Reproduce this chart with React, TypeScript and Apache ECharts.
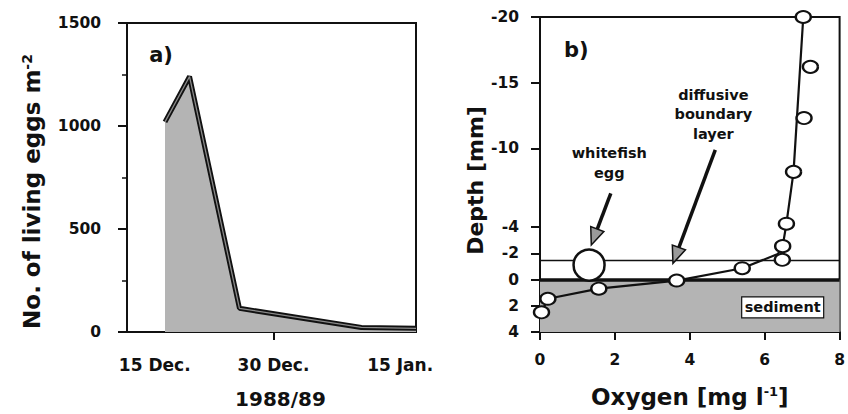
import React, { useEffect, useRef } from "react";
import * as echarts from "echarts";

// Panel a: living whitefish eggs per m² over the 1988/89 season (days after 15 Dec.)
const eggDays = [1.3, 4.4, 10.7, 26.1, 33];
const eggCounts = [1020, 1240, 115, 22, 18];
const dateTickDays = [0, 15, 31];
const dateTickLabels = ["15 Dec.", "30 Dec.", "15 Jan."];

// Panel b: oxygen micro-profile across the sediment–water interface
const o2Measured = [7.03, 7.22, 7.05, 6.77, 6.58, 6.48, 6.47, 5.4, 3.65, 1.57, 0.21, 0.04];
const depthMeasured = [-20, -16.2, -12.3, -8.2, -4.25, -2.54, -1.5, -0.86, 0.08, 0.7, 1.47, 2.5];
const o2Profile = [7.03, 6.77, 6.58, 6.48, 6.35, 5.4, 3.65, 1.57, 0.21, 0.04];
const depthProfile = [-20, -8.2, -4.25, -2.54, -1.94, -0.86, 0.08, 0.7, 1.47, 2.5];
const depthTicks = [-20, -15, -10, -4, -2, 0, 2, 4];
const boundaryLayerTop = -1.5;
const sedimentTop = 0;
const sedimentBottom = 4;
const eggPosition = [1.31, -1.1];

const FONT = "DejaVu Sans";
const INK = "#111";
const FILL = "#b4b4b4";

export default function App() {
  const ref = useRef<HTMLDivElement>(null);

  useEffect(() => {
    if (!ref.current) return;
    const chart = echarts.init(ref.current, null, { renderer: "svg" });

    const tickLabel = { color: INK, fontFamily: FONT, fontWeight: "bold" as const, fontSize: 15.5 };
    const axisLine = { onZero: false, lineStyle: { color: INK, width: 2 } };

    chart.setOption({
      animation: false,
      backgroundColor: "#fff",
      grid: [
        { left: 127, top: 23, width: 289, height: 316, show: true, borderColor: INK, borderWidth: 2, backgroundColor: "transparent" },
        { left: 540, top: 17, width: 306, height: 315, show: true, borderColor: INK, borderWidth: 2, backgroundColor: "transparent" },
      ],
      xAxis: [
        {
          type: "value",
          gridIndex: 0,
          min: -3.5,
          max: 33,
          splitLine: { show: false },
          axisLine,
          axisTick: { show: true, customValues: [15], length: 8, lineStyle: { color: INK, width: 2 } },
          axisLabel: {
            ...tickLabel,
            fontSize: 17,
            margin: 24,
            customValues: dateTickDays,
            formatter: (v: number) => dateTickLabels[dateTickDays.indexOf(v)] ?? "",
          },
          name: "1988/89",
          nameLocation: "middle",
          nameGap: 57,
          nameTextStyle: { color: INK, fontFamily: FONT, fontWeight: "bold", fontSize: 20, padding: [0, 0, 0, 18] },
        },
        {
          type: "value",
          gridIndex: 1,
          min: 0,
          max: 8,
          interval: 2,
          splitLine: { show: false },
          axisLine,
          axisTick: { length: 8, lineStyle: { color: INK, width: 2 } },
          axisLabel: { ...tickLabel, margin: 20, formatter: (v: number) => String(v) },
          name: "{t|Oxygen [mg l}{s|-1}{t|]}",
          nameLocation: "middle",
          nameGap: 53,
          nameTextStyle: {
            rich: {
              t: { color: INK, fontFamily: FONT, fontWeight: "bold", fontSize: 23 },
              s: { color: INK, fontFamily: FONT, fontWeight: "bold", fontSize: 13, verticalAlign: "top" },
            },
          },
        },
      ],
      yAxis: [
        {
          type: "value",
          gridIndex: 0,
          min: 0,
          max: 1500,
          interval: 500,
          splitLine: { show: false },
          axisLine,
          axisTick: { length: 9, lineStyle: { color: INK, width: 2 } },
          minorTick: { show: true, splitNumber: 2, length: 5, lineStyle: { color: INK, width: 1.5 } },
          axisLabel: { ...tickLabel, margin: 26, formatter: (v: number) => String(v) },
          name: "{t|No. of living eggs m}{s|-2}",
          nameLocation: "middle",
          nameGap: 84,
          nameTextStyle: {
            padding: [0, 28, 0, 0],
            rich: {
              t: { color: INK, fontFamily: FONT, fontWeight: "bold", fontSize: 23 },
              s: { color: INK, fontFamily: FONT, fontWeight: "bold", fontSize: 14, verticalAlign: "top" },
            },
          },
        },
        {
          type: "value",
          gridIndex: 1,
          inverse: true,
          min: -20,
          max: 4,
          splitLine: { show: false },
          axisLine,
          axisTick: { customValues: depthTicks, length: 9, lineStyle: { color: INK, width: 2 } },
          axisLabel: { ...tickLabel, margin: 21, customValues: depthTicks, formatter: (v: number) => String(v) },
          name: "Depth [mm]",
          nameLocation: "middle",
          nameGap: 54,
          nameTextStyle: { color: INK, fontFamily: FONT, fontWeight: "bold", fontSize: 22, padding: [0, 12, 0, 0] },
        },
      ],
      series: [
        // sediment layer and interface lines
        {
          type: "line",
          xAxisIndex: 1,
          yAxisIndex: 1,
          data: [],
          z: 1,
          markArea: {
            silent: true,
            itemStyle: { color: FILL },
            data: [[{ yAxis: sedimentTop }, { yAxis: sedimentBottom }]],
          },
          markLine: {
            silent: true,
            symbol: "none",
            label: { show: false },
            data: [
              { yAxis: sedimentTop, lineStyle: { color: INK, width: 3.5, type: "solid" } },
              { yAxis: boundaryLayerTop, lineStyle: { color: INK, width: 1.3, type: "solid" } },
            ],
          },
        },
        // panel a: filled egg counts with a double-stroked outline
        {
          type: "line",
          xAxisIndex: 0,
          yAxisIndex: 0,
          data: eggDays.map((d, i) => [d, eggCounts[i]]),
          symbol: "none",
          lineStyle: { color: INK, width: 5 },
          areaStyle: { color: FILL, opacity: 1 },
          z: 3,
        },
        {
          type: "line",
          xAxisIndex: 0,
          yAxisIndex: 0,
          data: eggDays.map((d, i) => [d, eggCounts[i]]),
          symbol: "none",
          lineStyle: { color: "#8a8a8a", width: 1.3 },
          z: 4,
        },
        // panel b: fitted oxygen profile
        {
          type: "line",
          xAxisIndex: 1,
          yAxisIndex: 1,
          data: o2Profile.map((o, i) => [o, depthProfile[i]]),
          symbol: "none",
          lineStyle: { color: INK, width: 2.2 },
          z: 4,
        },
        // panel b: measured oxygen values
        {
          type: "scatter",
          xAxisIndex: 1,
          yAxisIndex: 1,
          clip: false,
          data: o2Measured.map((o, i) => [o, depthMeasured[i]]),
          symbol: "circle",
          symbolSize: [15, 12],
          itemStyle: { color: "#fff", borderColor: INK, borderWidth: 2.2, opacity: 1 },
          z: 5,
        },
        // panel b: whitefish egg
        {
          type: "scatter",
          xAxisIndex: 1,
          yAxisIndex: 1,
          data: [eggPosition],
          symbol: "circle",
          symbolSize: 31,
          itemStyle: { color: "#fff", borderColor: INK, borderWidth: 2.5, opacity: 1 },
          z: 6,
        },
      ],
    });

    // annotations anchored to data coordinates
    const px = (grid: number, p: number[]) => chart.convertToPixel({ gridIndex: grid }, p) as number[];

    const arrow = (tail: number[], tip: number[]) => {
      const a = px(1, tail);
      const b = px(1, tip);
      const dx = b[0] - a[0];
      const dy = b[1] - a[1];
      const len = Math.hypot(dx, dy);
      const ux = dx / len;
      const uy = dy / len;
      const headLen = 17;
      const headHalf = 7;
      const bx = b[0] - ux * headLen;
      const by = b[1] - uy * headLen;
      return [
        {
          type: "line",
          shape: { x1: a[0], y1: a[1], x2: bx + ux * 2, y2: by + uy * 2 },
          style: { stroke: INK, lineWidth: 3.5 },
          z: 20,
        },
        {
          type: "polygon",
          shape: {
            points: [
              [b[0], b[1]],
              [bx - uy * headHalf, by + ux * headHalf],
              [bx + uy * headHalf, by - ux * headHalf],
            ],
          },
          style: { fill: "#9a9a9a", stroke: INK, lineWidth: 1.5 },
          z: 21,
        },
      ];
    };

    const label = (grid: number, at: number[], text: string, size: number, lh?: number) => {
      const p = px(grid, at);
      return {
        type: "text",
        x: p[0],
        y: p[1],
        z: 22,
        style: {
          text,
          fill: INK,
          fontFamily: FONT,
          fontWeight: "bold",
          fontSize: size,
          lineHeight: lh ?? size * 1.2,
          align: "center",
          verticalAlign: "middle",
        },
      };
    };

    const sed = px(1, [6.48, 2.13]);

    chart.setOption({
      graphic: [
        label(0, [0.8, 1343], "a)", 21),
        label(1, [0.97, -17.5], "b)", 21),
        label(1, [1.85, -8.85], "whitefish\negg", 14.5, 20),
        label(1, [4.63, -12.6], "diffusive\nboundary\nlayer", 14.5, 19.5),
        ...arrow([1.89, -6.57], [1.37, -2.63]),
        ...arrow([4.68, -9.87], [3.55, -1.23]),
        {
          type: "rect",
          shape: { x: sed[0] - 41, y: sed[1] - 10.5, width: 82, height: 21 },
          style: { fill: "#fff", stroke: INK, lineWidth: 1.2 },
          z: 22,
        },
        {
          type: "text",
          x: sed[0],
          y: sed[1],
          z: 23,
          style: {
            text: "sediment",
            fill: INK,
            fontFamily: FONT,
            fontWeight: "bold",
            fontSize: 14.5,
            align: "center",
            verticalAlign: "middle",
          },
        },
      ],
    });

    return () => chart.dispose();
  }, []);

  return (
    <div
      ref={ref}
      style={{ position: "absolute", left: 0, top: 0, width: 848, height: 414, background: "#fff" }}
    />
  );
}
